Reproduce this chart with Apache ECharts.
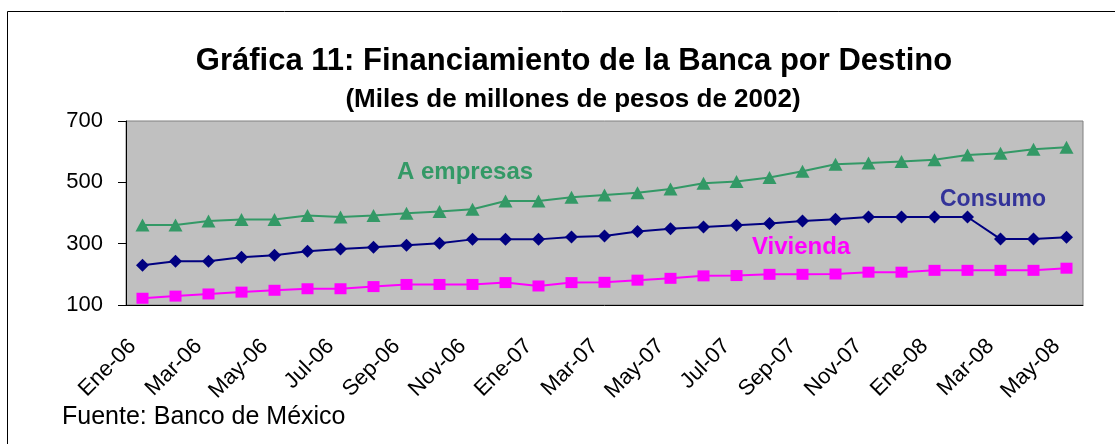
<!DOCTYPE html>
<html>
<head>
<meta charset="utf-8">
<script src="https://cdn.jsdelivr.net/npm/echarts@6/dist/echarts.min.js"></script>
<style>
  html, body { margin: 0; padding: 0; background: #fff; }
  #main { width: 1115px; height: 444px; }
</style>
</head>
<body>
<div id="main"></div>
<script>
// meses Ene-06 .. May-08
var meses = ['Ene-06','Feb-06','Mar-06','Abr-06','May-06','Jun-06','Jul-06','Ago-06','Sep-06','Oct-06','Nov-06','Dic-06',
             'Ene-07','Feb-07','Mar-07','Abr-07','May-07','Jun-07','Jul-07','Ago-07','Sep-07','Oct-07','Nov-07','Dic-07',
             'Ene-08','Feb-08','Mar-08','Abr-08','May-08'];

var empresas = [361, 361, 374, 379, 379, 392, 387, 392, 399, 405, 412, 439, 439, 451,
                459, 466, 478, 497, 503, 516, 536, 559, 563, 568, 574, 589, 595, 608, 614];

var consumo = [230, 243, 243, 256, 262, 275, 283, 288, 295, 301, 314, 314, 314, 322,
               325, 340, 349, 354, 360, 366, 374, 380, 387, 387, 387, 387, 315, 315, 321];

var vivienda = [122, 129, 136, 142, 148, 153, 153, 160, 167, 167, 167, 173, 162, 173,
                174, 181, 187, 195, 196, 200, 200, 201, 207, 207, 213, 213, 213, 213, 220];

var yTicks = [100, 300, 500, 700];

var chart = echarts.init(document.getElementById('main'));

var font = 'Liberation Sans, Arial, sans-serif';

var option = {
  backgroundColor: '#fff',
  animation: false,
  title: [{
    text: 'Gráfica 11: Financiamiento de la Banca por Destino',
    left: 569, top: 41, textAlign: 'center',
    textStyle: { fontFamily: font, fontSize: 31, fontWeight: 'bold', color: '#000' }
  }, {
    text: '(Miles de millones de pesos de 2002)',
    left: 568, top: 82, textAlign: 'center',
    textStyle: { fontFamily: font, fontSize: 26, fontWeight: 'bold', color: '#000' }
  }],
  grid: {
    left: 126, top: 121, width: 957, height: 184,
    show: true, backgroundColor: '#c0c0c0', borderColor: '#808080', borderWidth: 1
  },
  xAxis: {
    type: 'category',
    data: meses,
    boundaryGap: true,
    axisLine: { lineStyle: { color: '#000', width: 1 } },
    axisTick: { interval: 1, length: 7, lineStyle: { color: '#000' } },
    axisLabel: {
      interval: 1, rotate: 45, margin: 28, padding: [0, 14, 0, 0],
      fontFamily: font, fontSize: 22, color: '#000'
    }
  },
  yAxis: {
    type: 'value',
    min: 100, max: 700, interval: 200,
    axisLine: { show: true, lineStyle: { color: '#000', width: 1 } },
    axisTick: { show: true, length: 8, lineStyle: { color: '#000' } },
    splitLine: { show: false },
    axisLabel: {
      margin: 23, fontFamily: font, fontSize: 22, color: '#000',
      formatter: function (v) { return yTicks.indexOf(v) >= 0 ? String(v) : ''; }
    }
  },
  series: [{
    name: 'A empresas', type: 'line', data: empresas,
    symbol: 'triangle', symbolSize: [14, 13],
    lineStyle: { color: '#339966', width: 2 },
    itemStyle: { color: '#339966' }
  }, {
    name: 'Consumo', type: 'line', data: consumo,
    symbol: 'diamond', symbolSize: [13, 13],
    lineStyle: { color: '#000080', width: 2 },
    itemStyle: { color: '#000080' }
  }, {
    name: 'Vivienda', type: 'line', data: vivienda,
    symbol: 'rect', symbolSize: [12, 11],
    lineStyle: { color: '#ff00ff', width: 2 },
    itemStyle: { color: '#ff00ff' }
  }],
  graphic: [{
    type: 'rect',
    shape: { x: 7.5, y: 11.5, width: 1200, height: 500 },
    style: { fill: 'none', stroke: '#000', lineWidth: 1 },
    silent: true, z: -10
  }, {
    type: 'text', left: 397, top: 160,
    style: { text: 'A empresas', fill: '#339966', font: 'bold 24px ' + font }
  }, {
    type: 'text', left: 940, top: 188,
    style: { text: 'Consumo', fill: '#333399', font: 'bold 23px ' + font }
  }, {
    type: 'text', left: 752, top: 235,
    style: { text: 'Vivienda', fill: '#ff00ff', font: 'bold 24px ' + font }
  }, {
    type: 'text', left: 62, top: 405,
    style: { text: 'Fuente: Banco de México', fill: '#000', font: '25px ' + font }
  }]
};

chart.setOption(option);
</script>
</body>
</html>
